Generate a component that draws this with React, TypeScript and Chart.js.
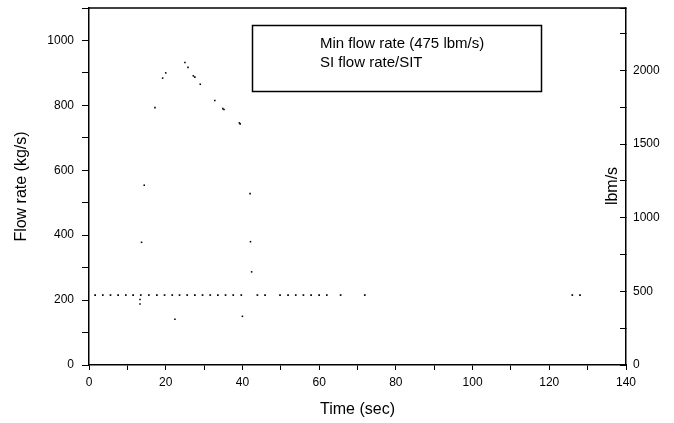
import React, { useEffect, useRef } from "react";
import { Chart, registerables } from "chart.js";

Chart.register(...registerables);

// Min flow rate series (lbm/s, plotted against the right axis)
const minFlowTimes = [1.6, 3.6, 5.6, 7.6, 9.6, 11.5, 13.5, 15.6, 17.7, 19.7, 21.7, 23.6, 25.6, 27.6, 29.6, 31.6, 33.6, 35.6, 37.6, 39.7, 43.9, 45.9, 49.8, 51.9, 53.9, 55.9, 57.9, 60.0, 62.0, 65.6, 71.9, 126.0, 128.0];
const minFlowValue = 475; // lbm/s

// SI flow rate / SIT series (kg/s, left axis)
const siTimes = [13.3, 13.3, 13.7, 14.4, 17.2, 19.2, 20.0, 22.4, 25.0, 25.8, 27.2, 27.6, 29.0, 32.8, 34.9, 35.2, 39.2, 39.4, 40.0, 42.0, 42.1, 42.4];
const siValues = [188, 202, 378, 554, 793, 884, 900, 141, 932, 917, 891, 887, 865, 815, 790, 787, 746, 743, 150, 528, 380, 287];

const legendLabels = ["Min flow rate (475 lbm/s)", "SI flow rate/SIT"];
const xTitle = "Time (sec)";
const yTitle = "Flow rate (kg/s)";
const y2Title = "lbm/s";

const FONT = "'Liberation Sans', Arial, Helvetica, sans-serif";

export default function App() {
  const ref = useRef<HTMLCanvasElement | null>(null);

  useEffect(() => {
    if (!ref.current) return;

    const decor = {
      id: "decor",
      afterDraw(chart: any) {
        const { ctx, chartArea } = chart;
        ctx.save();
        // top border
        ctx.strokeStyle = "#000";
        ctx.lineWidth = 1.5;
        ctx.beginPath();
        ctx.moveTo(chartArea.left, chartArea.top);
        ctx.lineTo(chartArea.right, chartArea.top);
        ctx.stroke();
        // legend box
        ctx.lineWidth = 1.5;
        ctx.strokeRect(252.5, 25.5, 289, 66);
        ctx.fillStyle = "#000";
        ctx.font = `15px ${FONT}`;
        ctx.textAlign = "left";
        ctx.textBaseline = "alphabetic";
        ctx.fillText(legendLabels[0], 320, 48);
        ctx.fillText(legendLabels[1], 320, 67);
        // right axis title
        ctx.translate(613, 186);
        ctx.rotate(-Math.PI / 2);
        ctx.textAlign = "center";
        ctx.textBaseline = "middle";
        ctx.font = `16px ${FONT}`;
        ctx.fillText(y2Title, 0, 0);
        ctx.restore();
      },
    };

    const fitV = (w: number) => (s: any) => {
      s.width = w;
      s.paddingTop = 0;
      s.paddingBottom = 0;
    };

    const chart = new Chart(ref.current, {
      type: "scatter",
      data: {
        datasets: [
          {
            label: legendLabels[0],
            data: minFlowTimes.map((t) => ({ x: t, y: minFlowValue })),
            yAxisID: "y2",
            pointStyle: "rect",
            pointRadius: 1.2,
            backgroundColor: "#000",
            borderWidth: 0,
          },
          {
            label: legendLabels[1],
            data: siTimes.map((t, i) => ({ x: t, y: siValues[i] })),
            yAxisID: "y",
            pointStyle: "rect",
            pointRadius: 1.1,
            backgroundColor: "#000",
            borderWidth: 0,
          },
        ],
      },
      options: {
        responsive: false,
        animation: false,
        layout: { padding: { top: 8, left: 0, right: 0, bottom: 0 } },
        plugins: { legend: { display: false }, tooltip: { enabled: false } },
        scales: {
          x: {
            type: "linear",
            min: 0,
            max: 140,
            afterFit: (s: any) => {
              s.height = 58;
              s.paddingLeft = 0;
              s.paddingRight = 0;
            },
            ticks: {
              stepSize: 10,
              color: "#000",
              font: { family: FONT, size: 12 },
              padding: 5,
              maxRotation: 0,
              autoSkip: false,
              callback: (v: any) => (Math.round(v) % 20 === 0 ? String(v) : ""),
            },
            grid: { drawOnChartArea: false, color: "#000", tickLength: 5 },
            border: { color: "#000", width: 1.5 },
            title: {
              display: true,
              text: xTitle,
              color: "#000",
              font: { family: FONT, size: 16 },
              padding: { top: 0, bottom: 4 },
            },
          },
          y: {
            position: "left",
            min: 0,
            max: 1100,
            afterFit: fitV(89),
            ticks: {
              stepSize: 100,
              color: "#000",
              font: { family: FONT, size: 12 },
              padding: 8,
              autoSkip: false,
              callback: (v: any) => {
                const r = Math.round(v);
                return r % 200 === 0 && r <= 1000 ? String(r) : "";
              },
            },
            grid: { drawOnChartArea: false, color: "#000", tickLength: 7 },
            border: { color: "#000", width: 1.5 },
            title: {
              display: true,
              text: yTitle,
              color: "#000",
              font: { family: FONT, size: 16 },
              padding: { top: 12, bottom: 0 },
            },
          },
          y2: {
            position: "right",
            min: 0,
            max: 2425,
            afterFit: fitV(48),
            ticks: {
              stepSize: 250,
              color: "#000",
              font: { family: FONT, size: 12 },
              padding: 13,
              autoSkip: false,
              callback: (v: any) => {
                const r = Math.round(v);
                return r % 500 === 0 ? String(r) : "";
              },
            },
            grid: { drawOnChartArea: false, color: "#000", tickLength: -6 },
            border: { color: "#000", width: 1.5 },
          },
        },
      },
      plugins: [decor],
    });

    return () => chart.destroy();
  }, []);

  return (
    <div style={{ position: "absolute", left: 0, top: 0, width: 674, height: 423, background: "#fff" }}>
      <canvas ref={ref} width={674} height={423} style={{ display: "block" }} />
    </div>
  );
}
